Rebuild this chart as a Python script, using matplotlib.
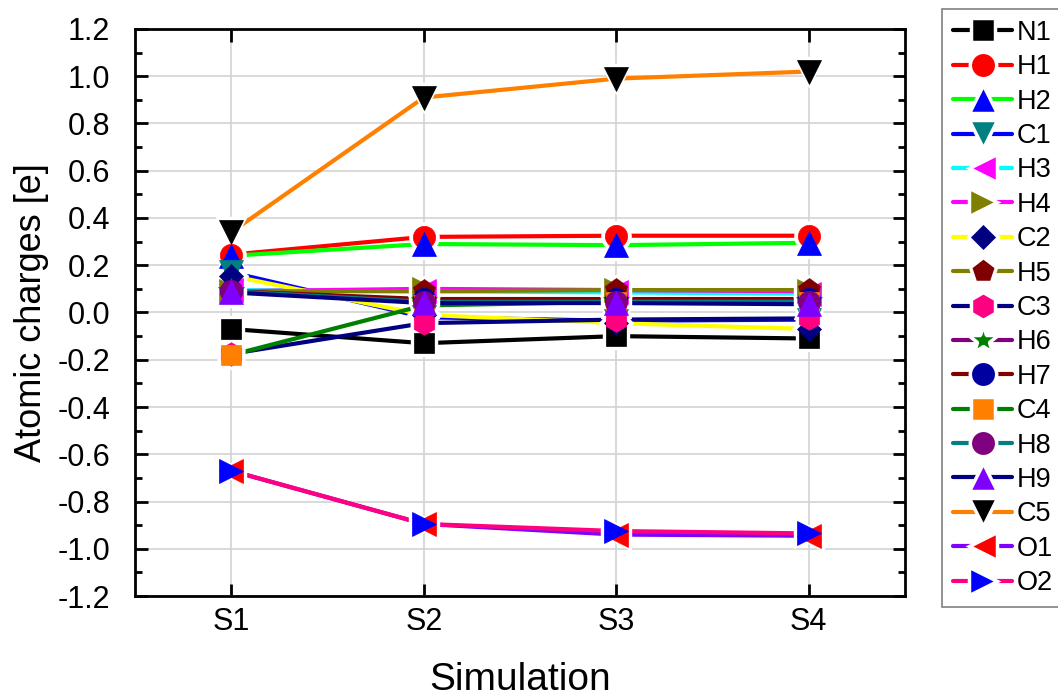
import numpy as np
import matplotlib
matplotlib.use("Agg")
import matplotlib.pyplot as plt
from matplotlib.lines import Line2D
from matplotlib.ticker import MultipleLocator

plt.rcParams['font.family'] = ['Liberation Sans', 'DejaVu Sans']

sims = ["S1", "S2", "S3", "S4"]

N1 = [-0.07, -0.13, -0.10, -0.11]
H1 = [0.245, 0.32, 0.325, 0.325]
H2 = [0.24, 0.29, 0.285, 0.295]
C1 = [0.17, -0.02, -0.035, -0.03]
H3 = [0.095, 0.09, 0.085, 0.08]
H4 = [0.09, 0.10, 0.095, 0.09]
C2 = [0.155, -0.01, -0.045, -0.07]
H5 = [0.09, 0.09, 0.095, 0.095]
C3 = [-0.175, -0.045, -0.03, -0.025]
H6 = [0.09, 0.05, 0.05, 0.05]
H7 = [0.09, 0.057, 0.057, 0.057]
C4 = [-0.18, 0.03, 0.045, 0.045]
H8 = [0.09, 0.045, 0.045, 0.045]
H9 = [0.085, 0.04, 0.04, 0.035]
C5 = [0.34, 0.91, 0.99, 1.02]
O1 = [-0.67, -0.895, -0.94, -0.945]
O2 = [-0.67, -0.895, -0.925, -0.935]

names = ["N1", "H1", "H2", "C1", "H3", "H4", "C2", "H5", "C3",
         "H6", "H7", "C4", "H8", "H9", "C5", "O1", "O2"]
values = [N1, H1, H2, C1, H3, H4, C2, H5, C3, H6, H7, C4, H8, H9, C5, O1, O2]

# (line colour, marker colour, marker, size)
styles = [
    ("#000000", "#000000", "s", 14),
    ("#FF0000", "#FF0000", "o", 16),
    ("#00FF00", "#0000FF", "^", 17),
    ("#0000FF", "#008080", "v", 17),
    ("#00FFFF", "#FF00FF", "<", 17),
    ("#FF00FF", "#808000", ">", 17),
    ("#FFFF00", "#000080", "D", 12),
    ("#808000", "#800000", "p", 17),
    ("#000080", "#FF0080", "h", 17),
    ("#800080", "#008000", "*", 19),
    ("#800000", "#0000A0", "o", 16),
    ("#008000", "#FF8000", "s", 14),
    ("#008080", "#800080", "o", 16),
    ("#000080", "#8000FF", "^", 17),
    ("#FF8000", "#000000", "v", 17),
    ("#8000FF", "#FF0000", "<", 17),
    ("#FF0080", "#0000FF", ">", 17),
]

x = np.arange(1, len(sims) + 1)

fig = plt.figure(figsize=(10.58, 6.97), dpi=100)
ax = fig.add_axes([0.1276, 0.1449, 0.7278, 0.8135])

handles = []
for i, (name, y) in enumerate(zip(names, values)):
    lc, mc, m, ms = styles[i]
    ax.plot(x, y, color=lc, lw=3, solid_capstyle='round', zorder=2)
    # white halo gives the gap between line and marker
    ax.plot(x, y, ls='none', marker=m, ms=ms + 5, mfc='white', mec='white', zorder=3)
    ax.plot(x, y, ls='none', marker=m, ms=ms, mfc=mc, mec=mc, mew=0.5, zorder=4 + i * 0.01)
    handles.append(Line2D([], [], color=lc, lw=3, solid_capstyle='round',
                          marker=m, ms=ms + 3, mfc=mc, mec='white', mew=2.5))

ax.set_xlim(0.5, 4.5)
ax.set_ylim(-1.2, 1.2)
ax.set_xticks(x)
ax.set_xticklabels(sims)
ax.yaxis.set_major_locator(MultipleLocator(0.2))
ax.yaxis.set_minor_locator(MultipleLocator(0.1))
ax.set_yticklabels([f"{v:.1f}" for v in ax.get_yticks()])

ax.grid(True, color="#D3D3D3", lw=1.2, zorder=0)
ax.set_axisbelow(True)

for s in ax.spines.values():
    s.set_linewidth(2)
ax.tick_params(axis='both', which='major', direction='in', length=9, width=2,
               labelsize=22, top=True, right=True)
ax.tick_params(axis='x', which='major', pad=8)
ax.tick_params(axis='y', which='major', pad=18)
ax.tick_params(axis='y', which='minor', direction='in', length=5, width=2,
               left=True, right=True)

ax.set_xlabel("Simulation", fontsize=28, labelpad=18)
ax.set_ylabel("Atomic charges [e]", fontsize=26, labelpad=6)

leg = fig.legend(handles, names, loc='upper left',
                 bbox_to_anchor=(942 / 1058, 1 - 9 / 697),
                 fontsize=19.5, handlelength=2.2, handletextpad=0.15,
                 labelspacing=0.31, borderpad=0.4, borderaxespad=0,
                 fancybox=False, framealpha=1)
leg.get_frame().set_edgecolor("#808080")
leg.get_frame().set_linewidth(1.2)

fig.savefig("out.png", dpi=100)
